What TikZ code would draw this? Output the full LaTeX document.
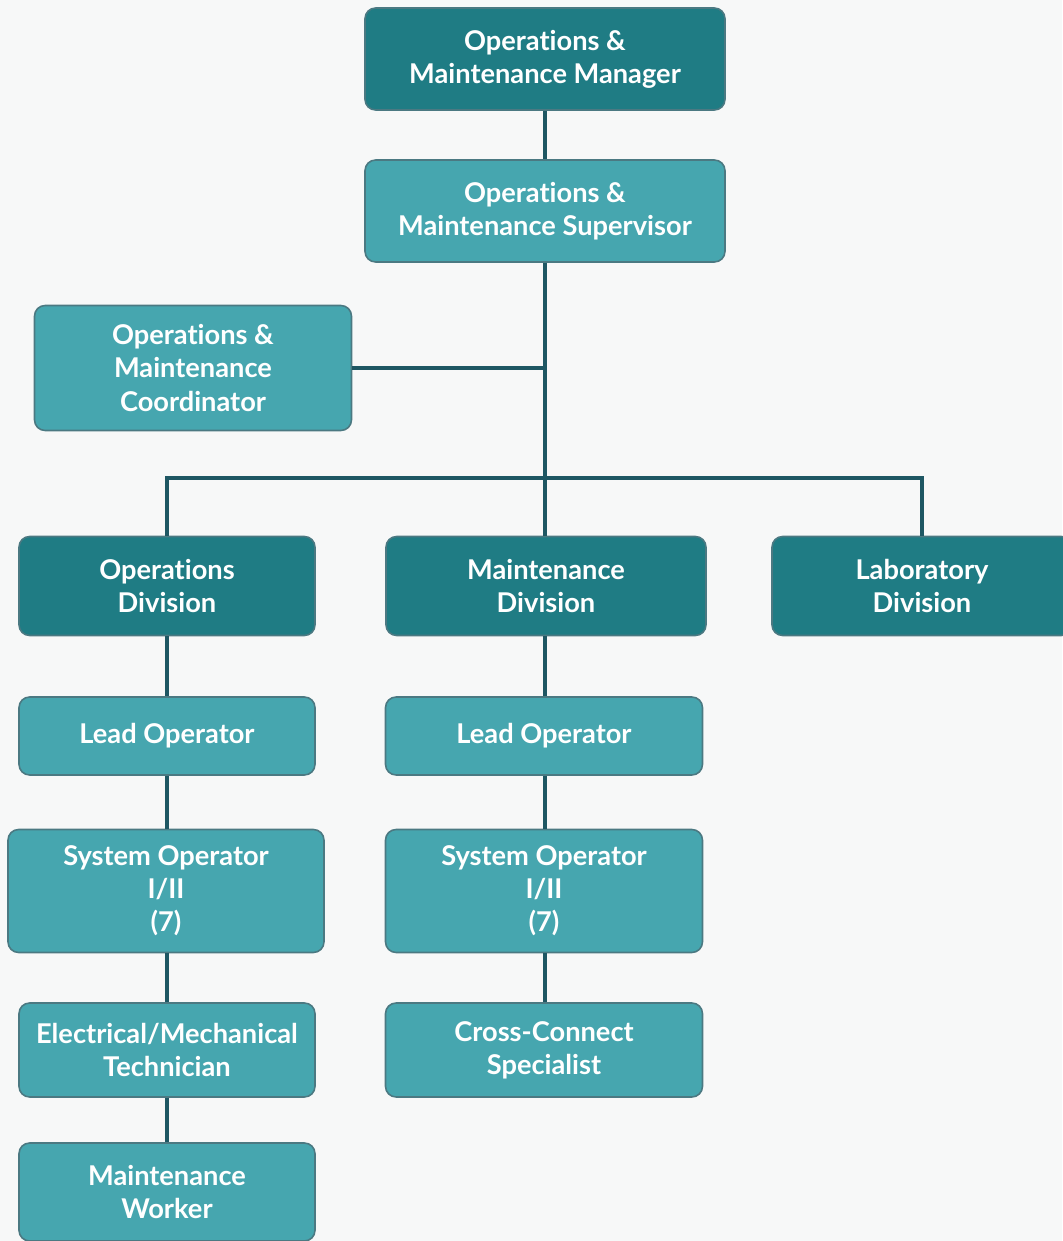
\documentclass[tikz,border=0pt]{standalone}
\usepackage{fontspec}
\setmainfont{Lato}[Ligatures=NoCommon]
\usepackage{xcolor}
\usepackage{tikz}
\usetikzlibrary{positioning,calc}
\definecolor{darkteal}{HTML}{1F7C84}
\definecolor{lightteal}{HTML}{46A6AF}
\definecolor{linecol}{HTML}{1E5763}
\definecolor{bgcol}{HTML}{F7F8F8}
\tikzstyle{box} = [rounded corners=6pt, draw=linecol!80, line width=0.9pt, text=white, align=center, inner sep=2pt, font=\fontsize{15.5}{18.8}\selectfont\bfseries]
\tikzstyle{headbox} = [box, fill=darkteal]
\tikzstyle{staffbox} = [box, fill=lightteal]
\tikzstyle{link} = [draw=linecol, line width=2.2pt]

\begin{document}
\begin{tikzpicture}[x=0.02cm,y=-0.02cm]
		\fill[bgcol] (0,0) rectangle (1062,1241); % background
		\useasboundingbox (0,0) rectangle (1062,1241);
		
		% top of the chart
		\node[headbox, minimum width=7.2cm, minimum height=2.04cm] (mgr) at (545,59) {Operations \&\\Maintenance Manager};
		\node[staffbox, minimum width=7.2cm, minimum height=2.04cm] (sup) at (545,211) {Operations \&\\Maintenance Supervisor};
		\node[staffbox, minimum width=6.34cm, minimum height=2.5cm] (coord) at (193,368) {Operations \&\\Maintenance\\Coordinator};
		
		% divisions
		\node[headbox, minimum width=5.92cm, minimum height=1.98cm] (odiv) at (167,586) {Operations\\Division};
		\node[headbox, minimum width=6.4cm, minimum height=1.98cm] (mdiv) at (546,586) {Maintenance\\Division};
		\node[headbox, minimum width=6.0cm, minimum height=1.98cm] (ldiv) at (922,586) {Laboratory\\Division};
		\coordinate (bus) at (545,478); % horizontal bus
		
		% operations column
		\node[staffbox, minimum width=5.92cm, minimum height=1.56cm] (olead) at (167,736) {Lead Operator};
		\node[staffbox, minimum width=6.32cm, minimum height=2.46cm] (osys) at (166,891) {System Operator\\I/II\\(7)};
		\node[staffbox, minimum width=5.92cm, minimum height=1.88cm] (tech) at (167,1050) {Electrical/Mechanical\\Technician};
		\node[staffbox, minimum width=5.92cm, minimum height=1.96cm] (worker) at (167,1192) {Maintenance\\Worker};
		
		% maintenance column
		\node[staffbox, minimum width=6.34cm, minimum height=1.56cm] (mlead) at (544,736) {Lead Operator};
		\node[staffbox, minimum width=6.34cm, minimum height=2.46cm] (msys) at (544,891) {System Operator\\I/II\\(7)};
		\node[staffbox, minimum width=6.34cm, minimum height=1.88cm] (xcon) at (544,1050) {Cross-Connect\\Specialist};
		
		% connectors
		\draw[link] (mgr.south) -- (sup.north);
		\draw[link] (sup.south) -- (sup.south |- mdiv.north); % trunk
		\draw[link] (coord.east) -- (coord.east -| sup.south);
		\draw[link] (odiv.north) |- (bus) -| (ldiv.north);
		\draw[link] (odiv.south) -- (olead.north);
		\draw[link] (olead.south) -- (olead.south |- osys.north);
		\draw[link] (olead.south |- osys.south) -- (tech.north);
		\draw[link] (tech.south) -- (worker.north);
		\draw[link] (mdiv.south -| sup.south) -- (sup.south |- mlead.north);
		\draw[link] (mlead.south -| sup.south) -- (sup.south |- msys.north);
		\draw[link] (sup.south |- msys.south) -- (sup.south |- xcon.north);
		
		\end{tikzpicture}
\end{document}
